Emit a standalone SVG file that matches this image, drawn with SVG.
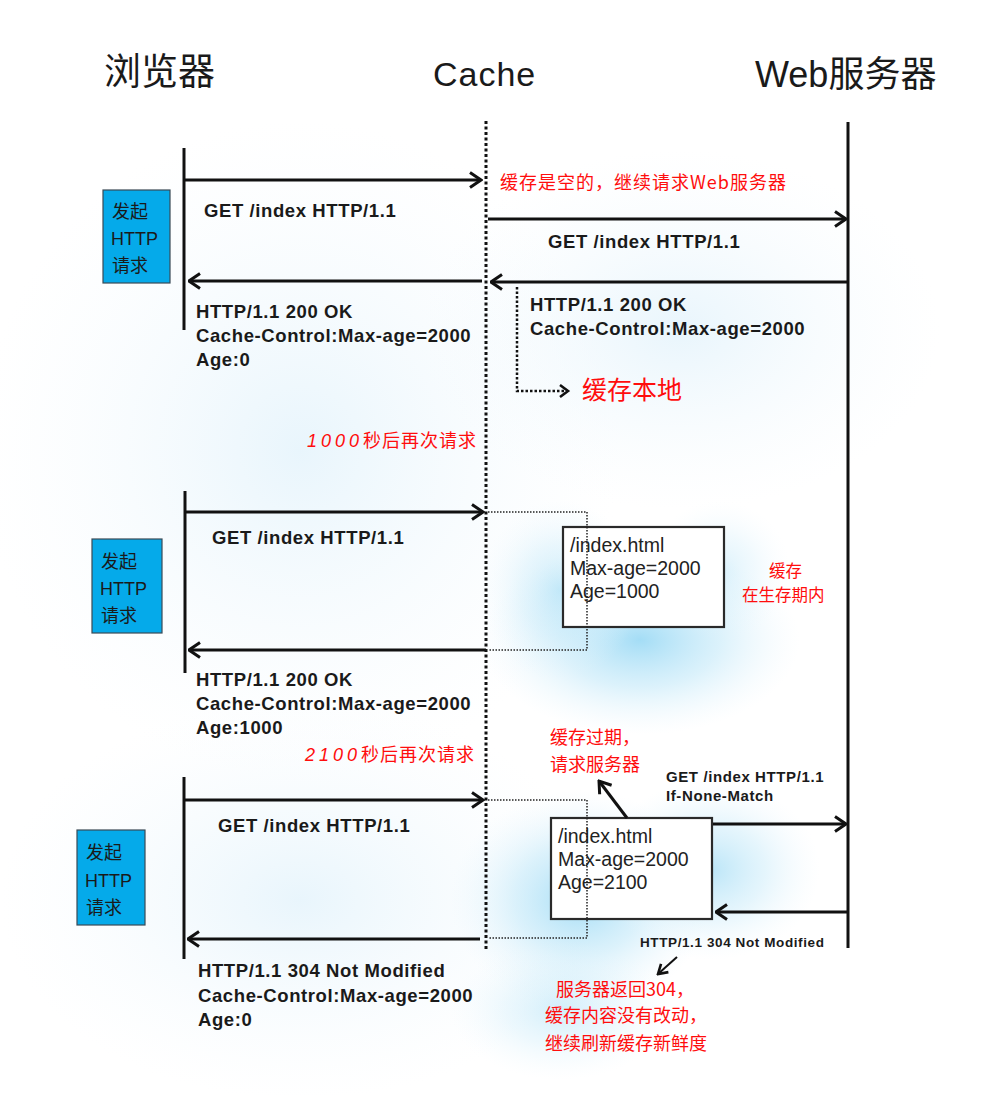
<svg xmlns="http://www.w3.org/2000/svg" width="985" height="1095" viewBox="0 0 985 1095">
  <defs>
    <style>
      .hd { font-family: "Liberation Sans", "Noto Sans CJK SC", sans-serif; font-size: 36px; fill: #1a1a1a; }
      .msg { font-family: "Liberation Sans", Arial, sans-serif; font-weight: bold; font-size: 18.5px; letter-spacing: 0.6px; fill: #1a1a1a; }
      .msg-s { font-family: "Liberation Sans", Arial, sans-serif; font-weight: bold; font-size: 15px; letter-spacing: 0.6px; fill: #1a1a1a; }
      .msg-xs { font-family: "Liberation Sans", Arial, sans-serif; font-weight: bold; font-size: 13.5px; letter-spacing: 0.6px; fill: #1a1a1a; }
      .note { font-family: "Noto Sans CJK SC", sans-serif; font-size: 18px; fill: #ff0d0d; }
      .note-l { font-family: "Noto Sans CJK SC", sans-serif; font-size: 25px; fill: #ff0d0d; }
      .num { font-family: "Liberation Sans", sans-serif; font-style: italic; letter-spacing: 4px; }
      .btn { fill: #05aaea; stroke: #3a4a55; stroke-width: 1.2; }
      .btn-t { font-family: "Liberation Sans", "Noto Sans CJK SC", sans-serif; font-size: 18px; fill: #1a1a1a; }
      .entry { fill: #ffffff; stroke: #2a2a2a; stroke-width: 2.2; }
      .entry-t { font-family: "Liberation Sans", Arial, sans-serif; font-size: 19.5px; fill: #222; }
      .life { stroke: #111; stroke-width: 3; fill: none; }
      .cache-line { stroke: #111; stroke-width: 3; stroke-dasharray: 3 2.5; fill: none; }
      .flow { stroke: #111; stroke-width: 3; fill: none; marker-end: url(#head); }
      .flow-thin { stroke: #111; stroke-width: 2; fill: none; marker-end: url(#head-s); }
      .lookup { stroke: #222; stroke-width: 1.5; stroke-dasharray: 1.5 1.5; fill: none; }
      .store { stroke: #111; stroke-width: 2.5; stroke-dasharray: 2.5 2; fill: none; }
    </style>
    <marker id="head" viewBox="0 0 14 18" refX="12.5" refY="9" markerWidth="14" markerHeight="18" markerUnits="userSpaceOnUse" orient="auto">
      <path d="M1.5,1.5 L12.5,9 L1.5,16.5" fill="none" stroke="#111" stroke-width="3" stroke-linejoin="miter"/>
    </marker>
    <marker id="head-s" viewBox="0 0 12 14" refX="10.5" refY="7" markerWidth="12" markerHeight="14" markerUnits="userSpaceOnUse" orient="auto">
      <path d="M1.5,1.5 L10.5,7 L1.5,12.5" fill="none" stroke="#111" stroke-width="2.6"/>
    </marker>
    <radialGradient id="glow" cx="0.5" cy="0.5" r="0.5">
      <stop offset="0" stop-color="#9fdbf5" stop-opacity="0.95"/>
      <stop offset="0.5" stop-color="#c4e9f9" stop-opacity="0.6"/>
      <stop offset="1" stop-color="#e8f6fd" stop-opacity="0"/>
    </radialGradient>
    <radialGradient id="haze" cx="0.5" cy="0.5" r="0.5">
      <stop offset="0" stop-color="#dff1fb" stop-opacity="0.7"/>
      <stop offset="1" stop-color="#f2f9fd" stop-opacity="0"/>
    </radialGradient>
  </defs>

  <!-- paper and soft light-blue wash -->
  <rect x="0" y="0" width="985" height="1095" fill="#ffffff"/>
  <g id="wash">
    <ellipse cx="300" cy="450" rx="320" ry="330" fill="url(#haze)"/>
    <ellipse cx="680" cy="330" rx="260" ry="180" fill="url(#haze)"/>
    <ellipse cx="300" cy="900" rx="300" ry="200" fill="url(#haze)"/>
    <ellipse cx="640" cy="640" rx="160" ry="95" fill="url(#glow)"/>
    <ellipse cx="560" cy="590" rx="80" ry="90" fill="url(#glow)" opacity="0.6"/>
    <ellipse cx="720" cy="570" rx="70" ry="70" fill="url(#glow)" opacity="0.4"/>
    <ellipse cx="580" cy="900" rx="130" ry="110" fill="url(#glow)"/>
    <ellipse cx="710" cy="870" rx="110" ry="90" fill="url(#glow)" opacity="0.75"/>
    <ellipse cx="560" cy="1010" rx="110" ry="70" fill="url(#glow)" opacity="0.5"/>
  </g>

  <!-- column headings -->
  <g id="head-browser"><text class="hd" x="104" y="85" style="font-family:'Noto Sans CJK SC',sans-serif;font-size:37px">浏览器</text></g>
  <g id="head-cache"><text class="hd" x="433" y="86" style="font-size:34px;letter-spacing:1px">Cache</text></g>
  <g id="head-server"><text class="hd" x="755" y="87" style="font-family:'Liberation Sans','Noto Sans CJK SC',sans-serif;font-size:36px">Web<tspan style="font-family:'Noto Sans CJK SC',sans-serif">服务器</tspan></text></g>

  <!-- lifelines -->
  <g id="lifelines">
    <line class="cache-line" x1="486" y1="121" x2="486" y2="951"/>
    <line class="life" x1="848" y1="122" x2="848" y2="948"/>
    <line class="life" x1="184" y1="148" x2="184" y2="330"/>
    <line class="life" x1="185" y1="491" x2="185" y2="673"/>
    <line class="life" x1="184" y1="777" x2="184" y2="959"/>
  </g>

  <!-- request triggers -->
  <g id="trigger-1">
    <rect class="btn" x="103" y="190" width="67" height="93"/>
    <text class="btn-t" x="112" y="218">发起</text>
    <text class="btn-t" x="111" y="245">HTTP</text>
    <text class="btn-t" x="112" y="272">请求</text>
  </g>
  <g id="trigger-2">
    <rect class="btn" x="92" y="539" width="70" height="94"/>
    <text class="btn-t" x="101" y="568">发起</text>
    <text class="btn-t" x="100" y="595">HTTP</text>
    <text class="btn-t" x="101" y="622">请求</text>
  </g>
  <g id="trigger-3">
    <rect class="btn" x="77" y="830" width="68" height="95"/>
    <text class="btn-t" x="86" y="859">发起</text>
    <text class="btn-t" x="85" y="887">HTTP</text>
    <text class="btn-t" x="86" y="914">请求</text>
  </g>

  <!-- cached entries -->
  <g id="entry-fresh">
    <rect class="entry" x="563" y="527" width="161" height="100"/>
    <text class="entry-t" x="570" y="552">/index.html</text>
    <text class="entry-t" x="570" y="575">Max-age=2000</text>
    <text class="entry-t" x="570" y="598">Age=1000</text>
  </g>
  <g id="entry-stale">
    <rect class="entry" x="551" y="818" width="161" height="101"/>
    <text class="entry-t" x="558" y="843">/index.html</text>
    <text class="entry-t" x="558" y="866">Max-age=2000</text>
    <text class="entry-t" x="558" y="889">Age=2100</text>
  </g>

  <!-- connectors -->
  <g id="connectors">
    <!-- round 1: empty cache, forwarded to server -->
    <line class="flow" x1="185" y1="180" x2="481" y2="180"/>
    <line class="flow" x1="488" y1="219" x2="846" y2="219"/>
    <line class="flow" x1="847" y1="282" x2="491" y2="282"/>
    <line class="flow" x1="482" y1="281" x2="189" y2="281"/>
    <polyline class="store" points="517,287 517,391 566,391"/>
    <path d="M560,385 L568,391 L560,397" fill="none" stroke="#111" stroke-width="2.6"/>

    <!-- round 2: fresh hit -->
    <line class="flow" x1="186" y1="512" x2="483" y2="512"/>
    <polyline class="lookup" points="488,512 587,512 587,650 488,650"/>
    <line class="flow" x1="486" y1="650" x2="189" y2="650"/>

    <!-- round 3: stale, revalidate -->
    <line class="flow" x1="185" y1="800" x2="483" y2="800"/>
    <polyline class="lookup" points="488,800 587,800 587,938 488,938"/>
    <line class="flow" x1="480" y1="939" x2="188" y2="939"/>
    <line class="flow" x1="713" y1="824" x2="846" y2="824"/>
    <line class="flow" x1="847" y1="912" x2="716" y2="912"/>
    <line class="flow" x1="627" y1="818" x2="599" y2="781"/>
    <line class="flow-thin" x1="677" y1="957" x2="658" y2="974"/>
  </g>

  <!-- message labels -->
  <g id="labels">
    <text class="msg" x="204" y="217">GET /index HTTP/1.1</text>
    <text class="msg" x="548" y="248">GET /index HTTP/1.1</text>
    <text class="msg" x="196" y="318">HTTP/1.1 200 OK</text>
    <text class="msg" x="196" y="342">Cache-Control:Max-age=2000</text>
    <text class="msg" x="196" y="366">Age:0</text>
    <text class="msg" x="530" y="311">HTTP/1.1 200 OK</text>
    <text class="msg" x="530" y="335">Cache-Control:Max-age=2000</text>

    <text class="msg" x="212" y="544">GET /index HTTP/1.1</text>
    <text class="msg" x="196" y="686">HTTP/1.1 200 OK</text>
    <text class="msg" x="196" y="710">Cache-Control:Max-age=2000</text>
    <text class="msg" x="196" y="734">Age:1000</text>

    <text class="msg" x="218" y="832">GET /index HTTP/1.1</text>
    <text class="msg" x="198" y="977">HTTP/1.1 304 Not Modified</text>
    <text class="msg" x="198" y="1002">Cache-Control:Max-age=2000</text>
    <text class="msg" x="198" y="1026">Age:0</text>

    <text class="msg-s" x="666" y="782">GET /index HTTP/1.1</text>
    <text class="msg-s" x="666" y="801">If-None-Match</text>
    <text class="msg-xs" x="640" y="947">HTTP/1.1 304 Not Modified</text>
  </g>

  <!-- annotations -->
  <g id="notes">
    <text class="note" x="500" y="189" style="letter-spacing:1px">缓存是空的，继续请求Web服务器</text>
    <text class="note-l" x="582" y="399">缓存本地</text>
    <text class="note" x="307" y="447" style="letter-spacing:1px"><tspan class="num">1000</tspan>秒后再次请求</text>
    <text class="note" x="769" y="577" style="font-size:16.5px">缓存</text>
    <text class="note" x="742" y="601" style="font-size:16.5px">在生存期内</text>
    <text class="note" x="305" y="761" style="letter-spacing:1px"><tspan class="num">2100</tspan>秒后再次请求</text>
    <text class="note" x="550" y="744">缓存过期，</text>
    <text class="note" x="550" y="771">请求服务器</text>
    <text class="note" x="556" y="996">服务器返回304，</text>
    <text class="note" x="545" y="1022">缓存内容没有改动，</text>
    <text class="note" x="545" y="1050">继续刷新缓存新鲜度</text>
  </g>
</svg>
